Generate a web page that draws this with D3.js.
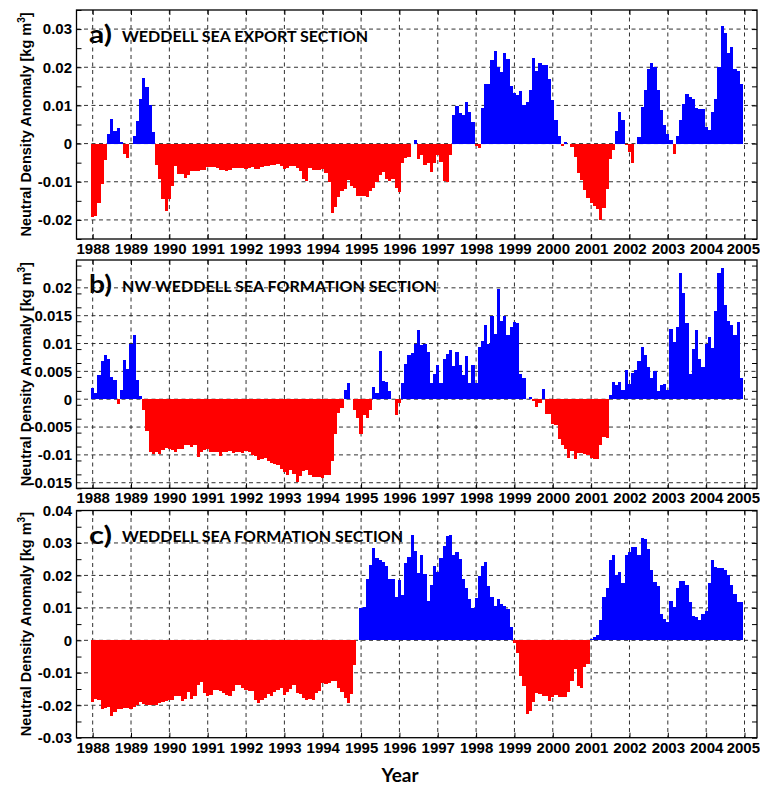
<!DOCTYPE html>
<html>
<head>
<meta charset="utf-8">
<script src="https://cdn.jsdelivr.net/npm/d3@7"></script>
<style>
  body { margin: 0; background: #fff; }
  svg { display: block; }
</style>
</head>
<body>
<svg id="chart" width="760" height="785"></svg>
<script>
// Monthly neutral density anomalies [kg m^-3], Jan 1988 – Dec 2004, one row per year.
const exportSection = [
  -0.0193, -0.0190, -0.0155, -0.0106, -0.0043, 0.0025, 0.0065, 0.0033, 0.0041, 0.0004, -0.0027, -0.0037,
  0.0000, 0.0019, 0.0058, 0.0118, 0.0173, 0.0148, 0.0100, 0.0030, -0.0055, -0.0093, -0.0145, -0.0176,
  -0.0145, -0.0110, -0.0058, -0.0079, -0.0079, -0.0089, -0.0082, -0.0072, -0.0071, -0.0071, -0.0069, -0.0068,
  -0.0062, -0.0062, -0.0062, -0.0063, -0.0068, -0.0069, -0.0071, -0.0069, -0.0063, -0.0063, -0.0064, -0.0065,
  -0.0066, -0.0063, -0.0061, -0.0066, -0.0066, -0.0062, -0.0058, -0.0058, -0.0056, -0.0056, -0.0054, -0.0058,
  -0.0066, -0.0063, -0.0060, -0.0060, -0.0064, -0.0073, -0.0092, -0.0099, -0.0065, -0.0069, -0.0069, -0.0069,
  -0.0066, -0.0078, -0.0100, -0.0181, -0.0167, -0.0139, -0.0124, -0.0119, -0.0095, -0.0112, -0.0116, -0.0137,
  -0.0137, -0.0138, -0.0139, -0.0124, -0.0116, -0.0100, -0.0083, -0.0074, -0.0093, -0.0097, -0.0093, -0.0116,
  -0.0126, -0.0052, -0.0037, -0.0035, -0.0002, 0.0009, -0.0040, -0.0030, -0.0055, -0.0050, -0.0074, -0.0050,
  -0.0030, -0.0048, -0.0098, -0.0100, -0.0030, 0.0074, 0.0099, 0.0080, 0.0074, 0.0108, 0.0084, 0.0056,
  -0.0006, -0.0011, 0.0092, 0.0156, 0.0157, 0.0220, 0.0243, 0.0200, 0.0187, 0.0237, 0.0222, 0.0152,
  0.0132, 0.0126, 0.0137, 0.0102, 0.0108, 0.0140, 0.0224, 0.0189, 0.0212, 0.0207, 0.0207, 0.0168,
  0.0115, 0.0063, 0.0019, -0.0006, 0.0003, 0.0000, -0.0009, -0.0035, -0.0078, -0.0096, -0.0122, -0.0142,
  -0.0155, -0.0163, -0.0171, -0.0200, -0.0168, -0.0120, -0.0041, -0.0017, 0.0032, 0.0082, 0.0061, -0.0004,
  -0.0022, -0.0050, 0.0000, 0.0017, 0.0095, 0.0140, 0.0195, 0.0210, 0.0200, 0.0141, 0.0087, 0.0050,
  0.0024, 0.0009, -0.0028, 0.0019, 0.0061, 0.0103, 0.0130, 0.0121, 0.0116, 0.0092, 0.0090, 0.0090,
  0.0043, 0.0035, 0.0082, 0.0116, 0.0200, 0.0309, 0.0290, 0.0237, 0.0252, 0.0195, 0.0191, 0.0157
];

const nwFormationSection = [
  0.0020, 0.0011, 0.0043, 0.0069, 0.0080, 0.0072, 0.0040, 0.0035, -0.0008, 0.0016, 0.0070, 0.0055,
  0.0100, 0.0115, 0.0035, 0.0006, -0.0020, -0.0057, -0.0095, -0.0099, -0.0094, -0.0098, -0.0092, -0.0087,
  -0.0089, -0.0092, -0.0095, -0.0089, -0.0090, -0.0082, -0.0083, -0.0086, -0.0083, -0.0104, -0.0095, -0.0092,
  -0.0089, -0.0095, -0.0095, -0.0095, -0.0102, -0.0095, -0.0095, -0.0093, -0.0096, -0.0094, -0.0095, -0.0096,
  -0.0093, -0.0094, -0.0101, -0.0102, -0.0110, -0.0108, -0.0106, -0.0111, -0.0114, -0.0117, -0.0119, -0.0126,
  -0.0130, -0.0136, -0.0128, -0.0135, -0.0149, -0.0138, -0.0129, -0.0128, -0.0137, -0.0140, -0.0139, -0.0140,
  -0.0141, -0.0136, -0.0137, -0.0111, -0.0062, -0.0025, -0.0015, 0.0016, 0.0029, 0.0000, -0.0020, -0.0034,
  -0.0062, -0.0029, -0.0034, -0.0019, 0.0022, 0.0011, 0.0087, 0.0032, 0.0031, 0.0015, 0.0000, -0.0029,
  -0.0007, 0.0029, 0.0063, 0.0079, 0.0083, 0.0100, 0.0124, 0.0097, 0.0100, 0.0084, 0.0029, 0.0045,
  0.0061, 0.0030, 0.0072, 0.0081, 0.0088, 0.0060, 0.0084, 0.0062, 0.0043, 0.0077, 0.0030, 0.0061,
  0.0029, 0.0093, 0.0104, 0.0133, 0.0100, 0.0150, 0.0118, 0.0198, 0.0141, 0.0150, 0.0115, 0.0129,
  0.0138, 0.0136, 0.0045, 0.0038, 0.0000, 0.0004, -0.0003, -0.0014, -0.0006, 0.0018, -0.0027, -0.0027,
  -0.0045, -0.0047, -0.0071, -0.0082, -0.0089, -0.0105, -0.0093, -0.0108, -0.0097, -0.0097, -0.0099, -0.0101,
  -0.0105, -0.0107, -0.0107, -0.0083, -0.0068, -0.0070, 0.0007, 0.0031, 0.0025, 0.0031, 0.0017, 0.0053,
  0.0028, 0.0047, 0.0053, 0.0069, 0.0093, 0.0080, 0.0058, 0.0038, 0.0050, 0.0015, 0.0025, 0.0028,
  0.0016, 0.0126, 0.0103, 0.0130, 0.0226, 0.0190, 0.0137, 0.0045, 0.0091, 0.0124, 0.0072, 0.0058,
  0.0099, 0.0111, 0.0092, 0.0158, 0.0227, 0.0235, 0.0169, 0.0141, 0.0133, 0.0115, 0.0139, 0.0038
];

const formationSection = [
  -0.0190, -0.0182, -0.0185, -0.0213, -0.0210, -0.0206, -0.0233, -0.0220, -0.0213, -0.0213, -0.0207, -0.0207,
  -0.0211, -0.0205, -0.0198, -0.0190, -0.0195, -0.0198, -0.0200, -0.0200, -0.0198, -0.0193, -0.0190, -0.0186,
  -0.0183, -0.0185, -0.0170, -0.0170, -0.0188, -0.0182, -0.0160, -0.0180, -0.0172, -0.0138, -0.0127, -0.0163,
  -0.0170, -0.0167, -0.0153, -0.0153, -0.0155, -0.0163, -0.0167, -0.0170, -0.0155, -0.0138, -0.0138, -0.0147,
  -0.0152, -0.0156, -0.0156, -0.0183, -0.0193, -0.0185, -0.0178, -0.0164, -0.0172, -0.0160, -0.0154, -0.0147,
  -0.0167, -0.0159, -0.0149, -0.0138, -0.0162, -0.0164, -0.0178, -0.0183, -0.0180, -0.0185, -0.0162, -0.0156,
  -0.0133, -0.0135, -0.0132, -0.0124, -0.0124, -0.0148, -0.0160, -0.0178, -0.0193, -0.0166, -0.0077, 0.0000,
  0.0101, 0.0102, 0.0188, 0.0233, 0.0283, 0.0255, 0.0246, 0.0241, 0.0228, 0.0190, 0.0190, 0.0133,
  0.0186, 0.0140, 0.0237, 0.0258, 0.0323, 0.0274, 0.0207, 0.0262, 0.0203, 0.0121, 0.0169, 0.0230,
  0.0212, 0.0254, 0.0292, 0.0320, 0.0326, 0.0262, 0.0271, 0.0252, 0.0190, 0.0160, 0.0128, 0.0101,
  0.0131, 0.0199, 0.0230, 0.0242, 0.0166, 0.0134, 0.0105, 0.0126, 0.0112, 0.0107, 0.0095, 0.0041,
  -0.0008, -0.0038, -0.0110, -0.0141, -0.0227, -0.0217, -0.0190, -0.0162, -0.0166, -0.0172, -0.0172, -0.0187,
  -0.0174, -0.0169, -0.0176, -0.0174, -0.0174, -0.0160, -0.0125, -0.0089, -0.0140, -0.0147, -0.0082, -0.0072,
  0.0003, 0.0010, 0.0015, 0.0062, 0.0135, 0.0160, 0.0248, 0.0262, 0.0200, 0.0212, 0.0177, 0.0262,
  0.0272, 0.0288, 0.0288, 0.0263, 0.0315, 0.0313, 0.0280, 0.0218, 0.0180, 0.0166, 0.0080, 0.0067,
  0.0056, 0.0121, 0.0103, 0.0162, 0.0183, 0.0182, 0.0169, 0.0118, 0.0075, 0.0072, 0.0062, 0.0082,
  0.0090, 0.0176, 0.0248, 0.0226, 0.0224, 0.0224, 0.0218, 0.0200, 0.0169, 0.0142, 0.0118, 0.0117
];

const startYear = 1988;
const yearTicks = d3.range(1988, 2006);
const ticksA = [-0.02, -0.01, 0, 0.01, 0.02, 0.03];
const ticksB = [-0.015, -0.01, -0.005, 0, 0.005, 0.01, 0.015, 0.02];
const ticksC = [-0.03, -0.02, -0.01, 0, 0.01, 0.02, 0.03, 0.04];

const svg = d3.select("#chart");
const left = 76.5, right = 757;
const x = d3.scaleLinear().domain([1987.578, 2005.326]).range([left, right]);

const numFont = "'Liberation Sans', Arial, Helvetica, sans-serif";
const titleFont = "Lato, 'Open Sans', sans-serif";
const fmt = v => v === 0 ? "0" : String(+v.toFixed(3));

const panels = [
  { letter: "a)", title: "WEDDELL SEA EXPORT SECTION", titleLen: 246,
    values: exportSection, top: 10, bottom: 239, domain: [-0.025, 0.035],
    ticks: ticksA, minorStep: 0.005 },
  { letter: "b)", title: "NW WEDDELL SEA FORMATION SECTION", titleLen: 315,
    values: nwFormationSection, top: 260, bottom: 488.3, domain: [-0.016, 0.025],
    ticks: ticksB, minorStep: 0.0025 },
  { letter: "c)", title: "WEDDELL SEA FORMATION SECTION", titleLen: 281,
    values: formationSection, top: 510.5, bottom: 737.7, domain: [-0.03, 0.04],
    ticks: ticksC, minorStep: 0.005 }
];

const monthW = x(startYear + 1 / 12) - x(startYear);

panels.forEach(p => {
  const y = d3.scaleLinear().domain(p.domain).range([p.bottom, p.top]);
  const g = svg.append("g");

  // panel letter and title
  g.append("text")
    .attr("x", 89).attr("y", p.top + 33)
    .attr("font-family", titleFont).attr("font-weight", 700)
    .attr("font-size", 25).attr("fill", "#000")
    .attr("textLength", 23).attr("lengthAdjust", "spacingAndGlyphs")
    .text(p.letter);
  g.append("text")
    .attr("x", 122).attr("y", p.top + 31.5)
    .attr("font-family", titleFont).attr("font-weight", 700)
    .attr("font-size", 15).attr("fill", "#000")
    .attr("textLength", p.titleLen).attr("lengthAdjust", "spacingAndGlyphs")
    .text(p.title);

  // dashed grid
  const grid = g.append("g")
    .attr("stroke", "#1a1a1a").attr("stroke-width", 0.9)
    .attr("stroke-dasharray", "4,3.5").attr("fill", "none");
  grid.selectAll("line.v").data(yearTicks).join("line")
    .attr("class", "v")
    .attr("x1", d => x(d)).attr("x2", d => x(d))
    .attr("y1", p.top).attr("y2", p.bottom);
  grid.selectAll("line.h").data(p.ticks.filter(t => y(t) > p.top + 1 && y(t) < p.bottom - 1)).join("line")
    .attr("class", "h")
    .attr("x1", left).attr("x2", right)
    .attr("y1", d => y(d)).attr("y2", d => y(d));

  // monthly bars, centred on each month
  g.append("g").attr("shape-rendering", "crispEdges")
    .selectAll("rect").data(p.values).join("rect")
    .attr("x", (d, i) => x(startYear + (i - 0.5) / 12))
    .attr("width", monthW)
    .attr("y", d => y(Math.max(0, d)))
    .attr("height", d => Math.abs(y(d) - y(0)))
    .attr("fill", d => d < 0 ? "#ff0000" : "#0000ff");

  // minor and major inward ticks on left and right
  const minor = d3.range(p.domain[0], p.domain[1] + 1e-9, p.minorStep)
    .map(v => +v.toFixed(5));
  const tickStyle = sel => sel.call(s => s.select(".domain").remove())
    .call(s => s.selectAll("line").attr("stroke", "#000").attr("stroke-width", 1));
  g.append("g").attr("transform", `translate(${left},0)`)
    .call(d3.axisLeft(y).tickValues(minor).tickSize(-5).tickFormat(""))
    .call(tickStyle);
  g.append("g").attr("transform", `translate(${right},0)`)
    .call(d3.axisRight(y).tickValues(minor).tickSize(-5).tickFormat(""))
    .call(tickStyle);

  // y tick labels
  const yAxis = g.append("g").attr("transform", `translate(${left},0)`)
    .call(d3.axisLeft(y).tickValues(p.ticks).tickSize(0).tickPadding(4.5).tickFormat(fmt))
    .call(s => s.select(".domain").remove());
  yAxis.selectAll("text")
    .attr("font-family", numFont).attr("font-weight", 700)
    .attr("font-size", 15).attr("fill", "#000");

  // year ticks top and bottom
  g.append("g").attr("transform", `translate(0,${p.top})`)
    .call(d3.axisTop(x).tickValues(yearTicks).tickSize(-5).tickFormat(""))
    .call(tickStyle);
  const xAxis = g.append("g").attr("transform", `translate(0,${p.bottom})`)
    .call(d3.axisBottom(x).tickValues(yearTicks).tickSize(-5).tickPadding(4.5).tickFormat(d3.format("d")))
    .call(tickStyle);
  xAxis.selectAll("text")
    .attr("y", 4.5)
    .attr("font-family", numFont).attr("font-weight", 700)
    .attr("font-size", 15).attr("fill", "#000");
  // keep the last year label inside the canvas
  xAxis.selectAll(".tick").filter(d => d === 2005).select("text")
    .attr("text-anchor", "end").attr("x", 759.5 - x(2005));

  // plot box
  g.append("rect")
    .attr("x", left).attr("y", p.top)
    .attr("width", right - left).attr("height", p.bottom - p.top)
    .attr("fill", "none").attr("stroke", "#000").attr("stroke-width", 1.3);

  // y-axis title
  const yl = g.append("text")
    .attr("transform", `translate(31,${(p.top + p.bottom) / 2}) rotate(-90)`)
    .attr("text-anchor", "middle")
    .attr("font-family", numFont).attr("font-weight", 700)
    .attr("font-size", 14.5).attr("fill", "#000");
  yl.append("tspan").text("Neutral Density Anomaly [kg m");
  yl.append("tspan").attr("font-size", 10).attr("dy", -6).text("3");
  yl.append("tspan").attr("dy", 6).text("]");
});

svg.append("text")
  .attr("x", 400).attr("y", 782)
  .attr("text-anchor", "middle")
  .attr("font-family", titleFont).attr("font-weight", 700)
  .attr("font-size", 19).attr("fill", "#000")
  .text("Year");
</script>
</body>
</html>
